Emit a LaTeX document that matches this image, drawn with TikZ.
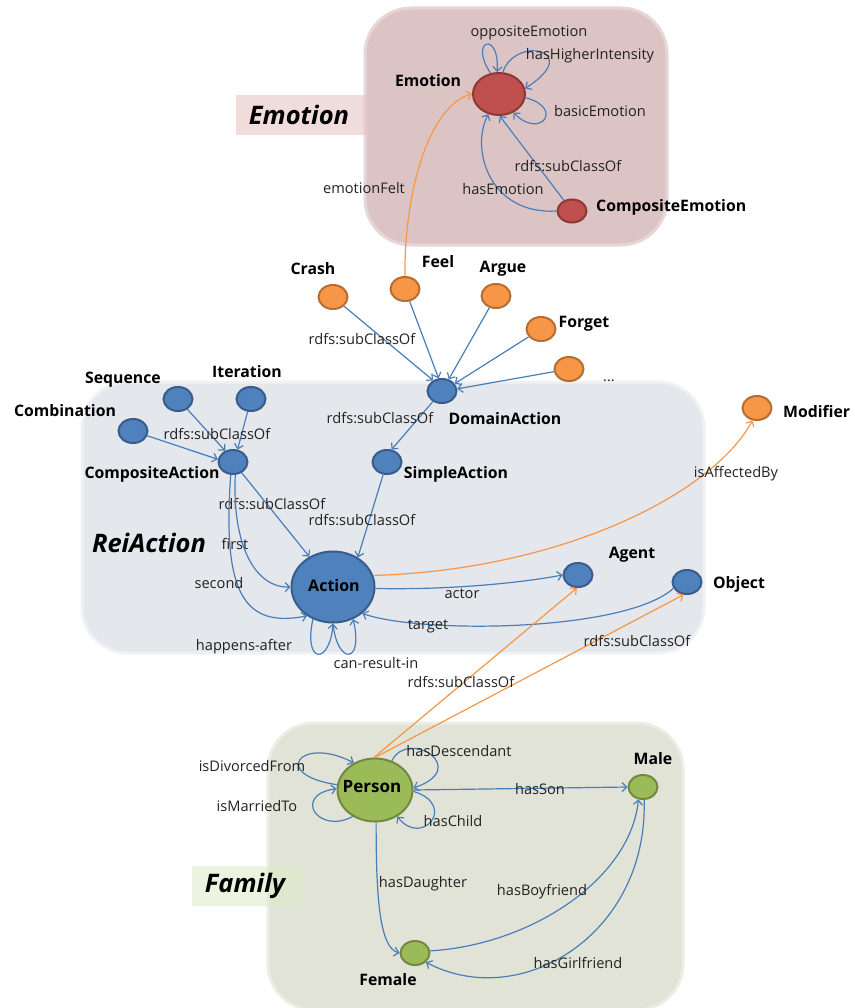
\documentclass[tikz,border=0pt]{standalone}
\usepackage{fontspec}
\setmainfont{Open Sans}
\usetikzlibrary{arrows.meta,shapes.geometric}
\definecolor{eblue}{HTML}{4A7EBB}
\definecolor{eorange}{HTML}{F79646}
\definecolor{nblue}{HTML}{4F81BD}
\definecolor{nblueD}{HTML}{385D8A}
\definecolor{norange}{HTML}{F79646}
\definecolor{norangeD}{HTML}{B66D31}
\definecolor{nred}{HTML}{C0504D}
\definecolor{nredD}{HTML}{8C3836}
\definecolor{ngreen}{HTML}{9BBB59}
\definecolor{ngreenD}{HTML}{71893F}
\definecolor{emobg}{HTML}{DDC4C4}
\definecolor{emotag}{HTML}{E8C4C4}
\definecolor{reibg}{HTML}{E4E7EB}
\definecolor{fambg}{HTML}{E0E3D6}
\definecolor{famtag}{HTML}{E0EBCB}
\definecolor{txt}{HTML}{222222}
\begin{document}
\begin{tikzpicture}[x=1pt,y=-1pt,
  edge/.style={draw=eblue, line width=1.2pt, -{Straight Barb[length=4.5pt,width=9pt]}},
  oedge/.style={draw=eorange, line width=1.2pt, -{Straight Barb[length=4.5pt,width=9pt]}},
  lbl/.style={font=\fontsize{14.6}{17}\selectfont, text=txt, inner sep=0pt},
  nlbl/.style={font=\bfseries\fontsize{15.8}{18}\selectfont, text=black, inner sep=0pt},
  tag/.style={font=\bfseries\itshape\fontsize{25.5}{30}\selectfont, text=black, inner sep=0pt},
  ball/.style={ellipse, minimum width=29pt, minimum height=24pt, line width=2pt, inner sep=0pt},
  bluen/.style={ball, fill=nblue, draw=nblueD},
  orangen/.style={ball, fill=norange, draw=norangeD},
  redn/.style={ball, fill=nred, draw=nredD},
  greenn/.style={ball, fill=ngreen, draw=ngreenD},
  region/.style={rounded corners=46pt, line width=3pt}
]
\useasboundingbox (0,0) rectangle (854,1008);

% group backgrounds
\path[region, fill=emobg, draw=emobg!70!white] (365,8) rectangle (667,245);
\path[region, fill=reibg, draw=reibg!60!white] (82,382) rectangle (704,653);
\path[region, fill=fambg, draw=fambg!60!white] (268,723) rectangle (683,1010);
\node[fill=emotag, fill opacity=0.6, minimum width=132pt, minimum height=40pt, inner sep=0pt] (emotag) at (302,115) {};
\node[tag] (emotagtext) at (299,115) {Emotion};
\node[fill=famtag, fill opacity=0.6, minimum width=112pt, minimum height=40pt, inner sep=0pt] (famtag) at (248,886) {};
\node[tag] (famtagtext) at (245,886) {Family};
\node[tag] (reitext) at (149,543) {ReiAction};

% emotion ontology
\node[redn, minimum width=52pt, minimum height=42pt] (emo) at (499,94) {};
\node[redn, minimum width=29pt, minimum height=23pt] (cemo) at (572,211) {};
\node[nlbl] (emolbl) at (428,81) {Emotion};
\node[nlbl, anchor=west] (cemolbl) at (596,207) {CompositeEmotion};

% action classes
\node[orangen] (crash) at (333,297) {};
\node[orangen] (feel) at (405,289) {};
\node[orangen] (argue) at (496,296) {};
\node[orangen] (forget) at (541,329) {};
\node[orangen] (more) at (569,369) {};
\node[orangen] (modifier) at (757,408) {};
\node[nlbl] (crashlbl) at (313,269) {Crash};
\node[nlbl] (feellbl) at (438,262) {Feel};
\node[nlbl] (arguelbl) at (503,269) {Argue};
\node[nlbl] (forgetlbl) at (584,324) {Forget};
\node[lbl] (morelbl) at (609,381) {...};
\node[nlbl, anchor=west] (modifierlbl) at (783,412) {Modifier};

\node[bluen] (da) at (442,391) {};
\node[bluen] (sa) at (387,462) {};
\node[bluen] (ca) at (233,462) {};
\node[bluen] (comb) at (133,431) {};
\node[bluen] (seq) at (178,399) {};
\node[bluen] (iter) at (251,399) {};
\node[bluen, minimum width=83pt, minimum height=71pt] (act) at (333,587) {};
\node[bluen] (agent) at (578,575) {};
\node[bluen] (obj) at (687,582) {};
\node[nlbl] (dalbl) at (505,419) {DomainAction};
\node[nlbl] (salbl) at (456,474) {SimpleAction};
\node[nlbl] (calbl) at (152,474) {CompositeAction};
\node[nlbl] (comblbl) at (65,411) {Combination};
\node[nlbl] (seqlbl) at (123,380) {Sequence};
\node[nlbl] (iterlbl) at (247,372) {Iteration};
\node[nlbl, font=\bfseries\fontsize{16}{19}\selectfont] (actlbl) at (334,585) {Action};
\node[nlbl] (agentlbl) at (632,555) {Agent};
\node[nlbl] (objlbl) at (739,584) {Object};

% family classes
\node[greenn, minimum width=75pt, minimum height=63pt] (per) at (375,790) {};
\node[greenn] (male) at (643,787) {};
\node[greenn] (female) at (415,953) {};
\node[nlbl, font=\bfseries\fontsize{17}{20}\selectfont] (perlbl) at (372,787) {Person};
\node[nlbl] (malelbl) at (653,759) {Male};
\node[nlbl] (femalelbl) at (388,980) {Female};

% emotion relations
\draw[edge] (emo.112) .. controls (468,40) and (500,30) .. (emo.95);
\draw[edge] (emo.80) .. controls (515,35) and (585,50) .. (emo.12);
\draw[edge] (emo.-8) .. controls (565,108) and (540,140) .. (emo.-52);
\draw[edge] (cemo) -- (emo.-88);
\draw[edge] (cemo.west) .. controls (490,215) and (470,150) .. (emo.-118);
\draw[oedge] (feel.north) .. controls (404,190) and (430,105) .. (emo.west);
\node[lbl] (l1) at (529,33) {oppositeEmotion};
\node[lbl] (l2) at (590,56) {hasHigherIntensity};
\node[lbl] (l3) at (600,111) {basicEmotion};
\node[lbl] (l4) at (568,166) {rdfs:subClassOf};
\node[lbl] (l5) at (503,189) {hasEmotion};
\node[lbl] (l6) at (364,188) {emotionFelt};

% action hierarchy
\draw[edge] (crash) -- (da.130);
\draw[edge] (feel) -- (da.105);
\draw[edge] (argue) -- (da.60);
\draw[edge] (forget) -- (da.30);
\draw[edge] (more) -- (da.8);
\draw[edge] (da) -- (sa.70);
\draw[edge] (sa) -- (act.50);
\draw[edge] (ca) -- (act.128);
\draw[edge] (comb) -- (ca.170);
\draw[edge] (seq) -- (ca.125);
\draw[edge] (iter) -- (ca.70);
\node[lbl] (l7) at (362,339) {rdfs:subClassOf};
\node[lbl] (l8) at (380,418) {rdfs:subClassOf};
\node[lbl] (l9) at (217,434) {rdfs:subClassOf};
\node[lbl] (l10) at (272,504) {rdfs:subClassOf};
\node[lbl] (l11) at (362,520) {rdfs:subClassOf};

% action relations
\draw[edge] (ca.-80) .. controls (232,545) and (255,588) .. (act.west);
\draw[edge] (ca.-100) .. controls (222,595) and (245,628) .. (act.-132);
\draw[edge] (act.-122) .. controls (303,665) and (330,665) .. (act.-90);
\draw[edge] (act.-90) .. controls (337,665) and (364,665) .. (act.-58);
\draw[edge] (act.-2) .. controls (450,590) and (520,583) .. (agent.west);
\draw[edge] (obj.-155) .. controls (625,632) and (420,634) .. (act.-42);
\draw[oedge] (act.16) .. controls (560,570) and (712,495) .. (modifier.-110);
\node[lbl] (l12) at (235,544) {first};
\node[lbl] (l13) at (219,583) {second};
\node[lbl] (l14) at (244,647) {happens-after};
\node[lbl] (l15) at (376,663) {can-result-in};
\node[lbl] (l16) at (462,594) {actor};
\node[lbl] (l17) at (428,626) {target};
\node[lbl] (l18) at (736,474) {isAffectedBy};

% person as agent and object
\draw[oedge] (per.92) -- (agent.-95);
\draw[oedge] (per.90) -- (obj.-105);
\node[lbl] (l19) at (461,682) {rdfs:subClassOf};
\node[lbl] (l20) at (637,641) {rdfs:subClassOf};

% family relations
\draw[edge] (per.60) .. controls (408,728) and (472,768) .. (per.3);
\draw[edge] (per.-2) .. controls (458,805) and (422,848) .. (per.-50);
\draw[edge] (per.172) .. controls (270,775) and (300,735) .. (per.128);
\draw[edge] (per.-130) .. controls (318,835) and (292,795) .. (per.178);
\draw[edge] (per.east) -- (male.west);
\draw[edge] (per.-88) .. controls (376,900) and (380,948) .. (female.west);
\draw[edge] (female.8) .. controls (530,945) and (630,880) .. (male.-110);
\draw[edge] (male.-85) .. controls (648,935) and (520,1012) .. (female.-40);
\node[lbl] (l21) at (459,751) {hasDescendant};
\node[lbl] (l22) at (252,766) {isDivorcedFrom};
\node[lbl] (l23) at (257,806) {isMarriedTo};
\node[lbl] (l24) at (540,789) {hasSon};
\node[lbl] (l25) at (453,821) {hasChild};
\node[lbl] (l26) at (423,884) {hasDaughter};
\node[lbl] (l27) at (542,892) {hasBoyfriend};
\node[lbl] (l28) at (578,963) {hasGirlfriend};
\end{tikzpicture}
\end{document}
